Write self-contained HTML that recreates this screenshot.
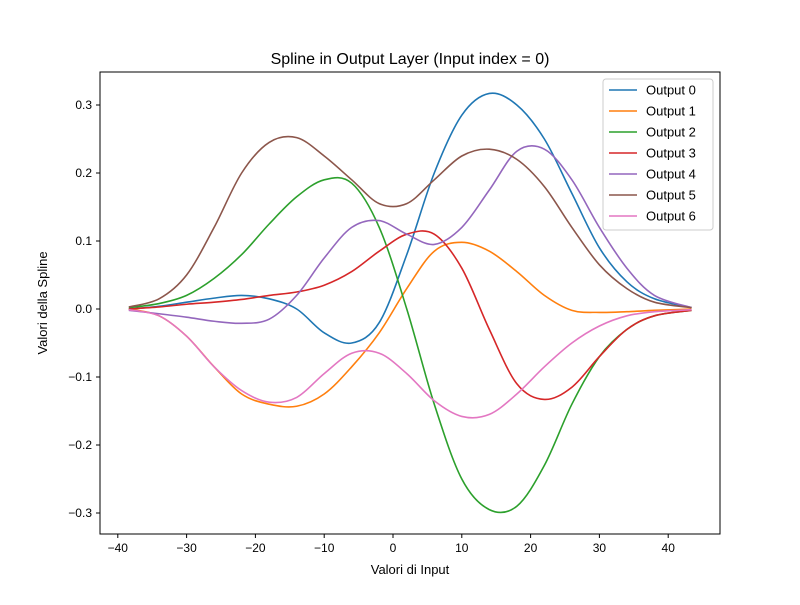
<!DOCTYPE html>
<html><head><meta charset="utf-8"><style>
body{margin:0;background:#fff;}
text{font-family:"Liberation Sans","DejaVu Sans",sans-serif;}
</style></head><body>
<svg id="chart" width="800" height="600" xmlns="http://www.w3.org/2000/svg">
<rect width="800" height="600" fill="#fff"/>
<text x="410" y="64" font-size="16" text-anchor="middle">Spline in Output Layer (Input index = 0)</text>
<g id="plot"></g>
<rect x="100" y="72" width="620" height="462" fill="none" stroke="#000" stroke-width="1"/>
<g id="xticks"></g><g id="yticks"></g>
<text x="410" y="574" font-size="13" text-anchor="middle">Valori di Input</text>
<text x="47" y="303" font-size="13" text-anchor="middle" transform="rotate(-90 47 303)">Valori della Spline</text>
<g id="legend"></g>
</svg>
<script>
const xs=[-38.4,-34,-30,-26,-22,-18,-14,-10,-6,-2,2,6,10,14,18,22,26,30,34,38,43.4];
const seriesNames=["Output 0","Output 1","Output 2","Output 3","Output 4","Output 5","Output 6"];
const colors=["#1f77b4","#ff7f0e","#2ca02c","#d62728","#9467bd","#8c564b","#e377c2"];
const out0=[0,0.004,0.01,0.016,0.02,0.015,0.0,-0.035,-0.05,-0.02,0.08,0.2,0.285,0.317,0.3,0.25,0.17,0.09,0.04,0.015,0.002];
const out1=[0,-0.01,-0.04,-0.085,-0.125,-0.14,-0.143,-0.125,-0.085,-0.035,0.03,0.085,0.098,0.085,0.055,0.02,-0.002,-0.005,-0.004,-0.002,0];
const out2=[0.002,0.008,0.02,0.045,0.08,0.125,0.165,0.19,0.185,0.12,0.0,-0.14,-0.25,-0.295,-0.29,-0.23,-0.14,-0.07,-0.03,-0.01,-0.002];
const out3=[0,0.003,0.007,0.01,0.014,0.02,0.025,0.035,0.055,0.085,0.11,0.11,0.06,-0.03,-0.11,-0.133,-0.115,-0.07,-0.03,-0.01,-0.002];
const out4=[-0.002,-0.007,-0.012,-0.018,-0.021,-0.015,0.02,0.075,0.12,0.13,0.11,0.095,0.12,0.175,0.232,0.235,0.19,0.12,0.06,0.02,0.002];
const out5=[0.003,0.015,0.05,0.12,0.2,0.245,0.252,0.225,0.19,0.155,0.155,0.19,0.225,0.235,0.22,0.18,0.12,0.065,0.03,0.01,0.002];
const out6=[-0.001,-0.01,-0.04,-0.085,-0.12,-0.137,-0.13,-0.095,-0.065,-0.065,-0.095,-0.135,-0.158,-0.155,-0.125,-0.085,-0.05,-0.025,-0.01,-0.004,-0.001];
const xTicks=[-40,-30,-20,-10,0,10,20,30,40];
const yTicks=[-0.3,-0.2,-0.1,0.0,0.1,0.2,0.3];
const allSeries=[out0,out1,out2,out3,out4,out5,out6];
const NS="http://www.w3.org/2000/svg";
const sx=v=>393+6.88*v;
const sy=v=>309-680*v;
function mk(tag,attrs,parent){const e=document.createElementNS(NS,tag);for(const k in attrs)e.setAttribute(k,attrs[k]);parent.appendChild(e);return e;}
const plot=document.getElementById('plot');
allSeries.forEach((s,i)=>{
  const p=xs.map((x,j)=>[sx(x),sy(s[j])]);
  let d="M"+p[0][0]+","+p[0][1];
  for(let j=0;j<p.length-1;j++){
    const p0=p[Math.max(0,j-1)],p1=p[j],p2=p[j+1],p3=p[Math.min(p.length-1,j+2)];
    const c1=[p1[0]+(p2[0]-p0[0])/6,p1[1]+(p2[1]-p0[1])/6];
    const c2=[p2[0]-(p3[0]-p1[0])/6,p2[1]-(p3[1]-p1[1])/6];
    d+=` C${c1[0]},${c1[1]} ${c2[0]},${c2[1]} ${p2[0]},${p2[1]}`;
  }
  const el=mk('path',{d:d,fill:'none',stroke:colors[i],'stroke-width':1.6},plot);
  
  
});
const xt=document.getElementById('xticks');
xTicks.forEach(t=>{
  const g=mk('g',{},xt);
  
  
  mk('line',{x1:sx(t),x2:sx(t),y1:534,y2:538,stroke:'#000'},g);
  const tx=mk('text',{x:sx(t),y:552,'font-size':12,'text-anchor':'middle'},g);
  tx.textContent=(t<0?'\u2212'+(-t):t);
});
const yt=document.getElementById('yticks');
yTicks.forEach(t=>{
  const g=mk('g',{},yt);
  
  
  mk('line',{x1:96,x2:100,y1:sy(t),y2:sy(t),stroke:'#000'},g);
  const tx=mk('text',{x:92,y:sy(t)+4,'font-size':12,'text-anchor':'end'},g);
  tx.textContent=(t<0?'\u2212':'')+Math.abs(t).toFixed(1);
});
const lg=document.getElementById('legend');
const box=mk('rect',{x:603,y:79,width:110,height:151,rx:3,fill:'#fff','fill-opacity':0.8,stroke:'#ccc'},lg);


seriesNames.forEach((n,i)=>{
  const y=90+i*21;
  const g=mk('g',{},lg);
  
  
  mk('line',{x1:609,x2:637,y1:y,y2:y,stroke:colors[i],'stroke-width':1.6},g);
  const t=mk('text',{x:646,y:y+4.5,'font-size':13},g);
  t.textContent=n;
});
</script>
</body></html>
